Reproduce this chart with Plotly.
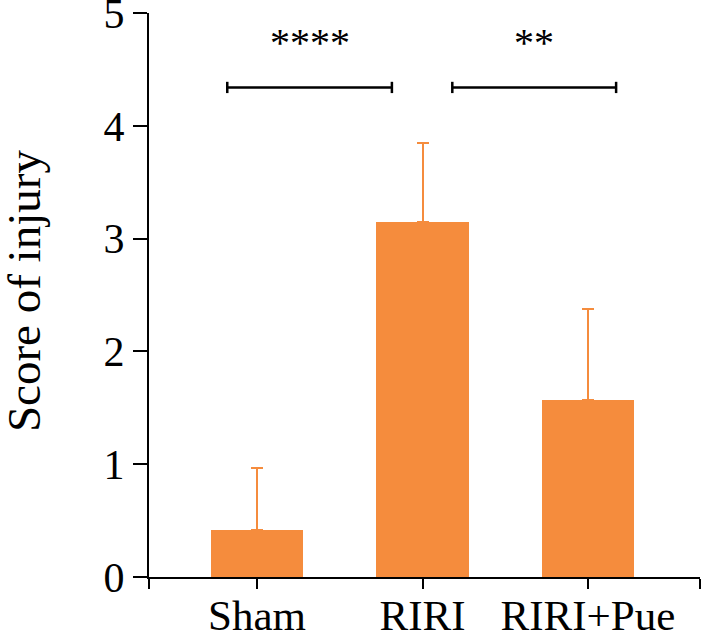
import plotly.graph_objects as go

categories = ["Sham", "RIRI", "RIRI+Pue"]
means = [0.42, 3.15, 1.57]
errors = [0.55, 0.70, 0.81]
y_ticks = [0, 1, 2, 3, 4, 5]
comparisons = [(0, 1, "****"), (1, 2, "**")]
bracket_y = 4.34
star_y = 4.74

orange = "#F58C3D"
font_family = "Liberation Serif, Times New Roman, serif"

x_pos = list(range(len(categories)))
x_min, x_max = -0.653, 2.677

W, H = 708, 638
L, T, PW, PH = 149, 13, 551, 564

fig = go.Figure()
fig.add_trace(go.Bar(
    x=x_pos, y=means, width=0.56,
    marker=dict(color=orange, line=dict(width=0)),
    error_y=dict(type="data", array=errors, symmetric=False, arrayminus=[0]*3,
                 color=orange, thickness=2, width=6),
    showlegend=False,
))

shapes = []
annotations = []
for a, b, label in comparisons:
    x0 = a - 0.18 if a == 0 else a + 0.18
    x1 = b - 0.185 if a == 0 else b + 0.17
    shapes.append(dict(type="line", xref="x", yref="y", x0=x0, x1=x1, y0=bracket_y, y1=bracket_y,
                       line=dict(color="black", width=2.5)))
    for xe in (x0, x1):
        shapes.append(dict(type="line", xref="x", yref="y", x0=xe, x1=xe,
                           y0=bracket_y - 0.05, y1=bracket_y + 0.05,
                           line=dict(color="black", width=2.5)))
    annotations.append(dict(x=(x0 + x1) / 2, y=star_y, xref="x", yref="y", text=label,
                            showarrow=False, font=dict(size=40, color="black", family=font_family),
                            yanchor="middle"))

annotations.append(dict(x=(24 - L) / PW, y=0.507, xref="paper", yref="paper",
                        text="Score of injury", textangle=-90, showarrow=False,
                        xanchor="center", yanchor="middle",
                        font=dict(size=47, family=font_family, color="black")))

fig.update_layout(
    width=W, height=H,
    margin=dict(l=L, r=W - L - PW, t=T, b=H - T - PH),
    paper_bgcolor="white", plot_bgcolor="white",
    font=dict(family=font_family, color="black"),
    shapes=shapes, annotations=annotations,
    bargap=0,
)
fig.update_xaxes(
    range=[x_min, x_max], automargin=False,
    tickmode="array",
    tickvals=[x_min] + x_pos + [x_max],
    ticktext=[""] + categories + [""],
    ticks="outside", ticklen=10, tickwidth=2, tickcolor="black",
    ticklabelstandoff=-11, ticklabeloverflow="allow",
    showline=True, linecolor="black", linewidth=2,
    showgrid=False, zeroline=False,
    tickfont=dict(size=43, family=font_family, color="black"),
)
fig.update_yaxes(
    range=[0, 5], automargin=False,
    tickmode="array", tickvals=y_ticks,
    ticks="outside", ticklen=14, tickwidth=2, tickcolor="black",
    ticklabeloverflow="allow",
    showline=True, linecolor="black", linewidth=2,
    showgrid=False, zeroline=False,
    tickfont=dict(size=42, family=font_family, color="black"),
)

fig.write_html("out.html", config={"displayModeBar": False},
               post_script="document.body.style.margin='0';")
